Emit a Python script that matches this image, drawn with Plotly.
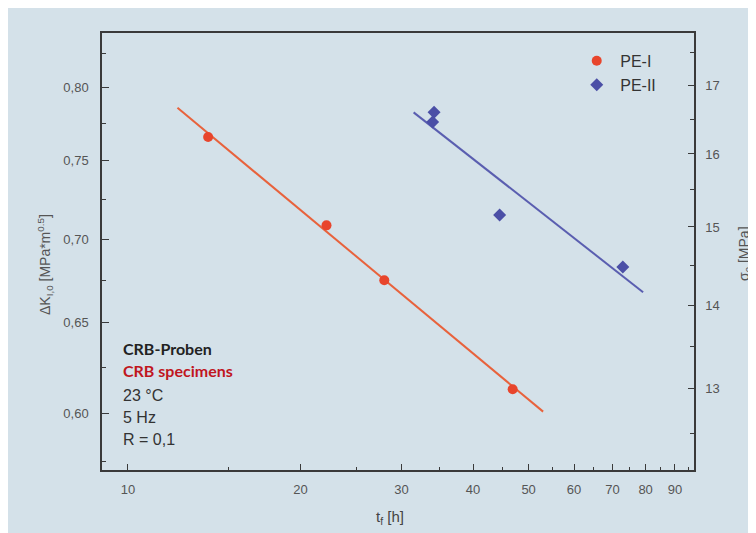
import plotly.graph_objects as go

# ---- data ----
pe1_t = [13.8, 22.2, 28.0, 46.9]          # t_f [h]
pe1_dk = [0.766, 0.7085, 0.675, 0.613]   # ΔK_I,0 [MPa*m^0.5]
pe1_fit_t = [12.2, 53.0]
pe1_fit_dk = [0.786, 0.601]

pe2_t = [34.2, 34.0, 44.5, 73.0]         # t_f [h]
pe2_sig = [16.60, 16.46, 15.16, 14.48]   # σ0 [MPa]
pe2_fit_t = [31.5, 79.2]
pe2_fit_sig = [16.60, 14.16]

x_ticks = [10, 20, 30, 40, 50, 60, 70, 80, 90]
x_minor = [15, 25, 35, 45, 55, 65, 75, 85, 95]
y_ticks = [0.60, 0.65, 0.70, 0.75, 0.80]
y_minor = [0.575, 0.625, 0.675, 0.725, 0.775, 0.825]
y2_ticks = [13, 14, 15, 16, 17]
y2_minor = [12.5, 13.5, 14.5, 15.5, 16.5, 17.5]

info_lines = ["23 °C", "5 Hz", "R = 0,1"]

BG = "#d4e1e9"
AX = "#3a3a3a"
TICKFONT = dict(family="Liberation Sans, Arial, sans-serif", size=13, color="#555")

fig = go.Figure()
fig.add_trace(go.Scatter(x=pe1_fit_t, y=pe1_fit_dk, mode="lines",
                         line=dict(color="#e8623c", width=2), showlegend=False,
                         hoverinfo="skip"))
fig.add_trace(go.Scatter(x=pe2_fit_t, y=pe2_fit_sig, mode="lines", yaxis="y2",
                         line=dict(color="#5a5eb0", width=2), showlegend=False,
                         hoverinfo="skip"))
fig.add_trace(go.Scatter(x=pe1_t, y=pe1_dk, mode="markers", name="PE-I",
                         marker=dict(symbol="circle", size=10, color="#e8452c")))
fig.add_trace(go.Scatter(x=pe2_t, y=pe2_sig, mode="markers", name="PE-II", yaxis="y2",
                         marker=dict(symbol="diamond", size=10, color="#4b4fa6")))

common = dict(showline=True, linecolor=AX, linewidth=1.5, ticks="inside",
              tickcolor=AX, tickwidth=1.3, showgrid=False, zeroline=False,
              tickfont=TICKFONT)

# page body has an 8px margin, so the figure is sized 8px smaller
fig.update_layout(
    width=748, height=525,
    margin=dict(l=94, r=62, t=25, b=63),
    paper_bgcolor=BG,
    plot_bgcolor=BG,
    separators=",.",
    xaxis=dict(type="log", range=[0.9547, 1.9875], tickmode="array",
               tickvals=x_ticks, ticktext=[str(v) for v in x_ticks], ticklen=6,
               mirror=True, ticklabelstandoff=7,
               minor=dict(tickmode="array", tickvals=x_minor, ticks="inside",
                          ticklen=3, tickcolor=AX, tickwidth=1.3, showgrid=False),
               **common),
    yaxis=dict(type="log", range=[-0.24352, -0.07587], tickmode="array",
               tickvals=y_ticks, ticktext=[f"{v:.2f}".replace(".", ",") for v in y_ticks],
               ticklen=7, ticklabelstandoff=9,
               minor=dict(tickmode="array", tickvals=y_minor, ticks="inside",
                          ticklen=4, tickcolor=AX, tickwidth=1.3, showgrid=False),
               **common),
    yaxis2=dict(type="log", range=[1.08279, 1.25057], overlaying="y", side="right",
                tickmode="array", tickvals=y2_ticks, ticktext=[str(v) for v in y2_ticks],
                ticklen=6, ticklabelstandoff=7,
                minor=dict(tickmode="array", tickvals=y2_minor, ticks="inside",
                           ticklen=4, tickcolor=AX, tickwidth=1.3, showgrid=False),
                **common),
    legend=dict(x=0.796, y=0.975, xanchor="left", yanchor="top",
                bgcolor="rgba(0,0,0,0)", itemwidth=37,
                font=dict(family="Liberation Sans, Arial, sans-serif", size=16, color="#333")),
)

def px_x(x):
    return (x - 102) / 592

def px_y(y):
    return (470 - y) / 437

ann = []
ann.append(dict(xref="paper", yref="paper", x=px_x(45), y=px_y(265),
                text="ΔK<sub>I,0</sub> [MPa*m<sup>0.5</sup>]", textangle=-90,
                showarrow=False, xanchor="center", yanchor="middle",
                font=dict(family="Liberation Sans, Arial, sans-serif", size=14, color="#555")))
ann.append(dict(xref="paper", yref="paper", x=px_x(745), y=px_y(254),
                text="σ<sub>0</sub> [MPa]", textangle=-90,
                showarrow=False, xanchor="center", yanchor="middle",
                font=dict(family="Liberation Sans, Arial, sans-serif", size=14, color="#555")))
ann.append(dict(xref="paper", yref="paper", x=px_x(390), y=px_y(517),
                text="t<sub>f</sub> [h]", showarrow=False, xanchor="center", yanchor="middle",
                font=dict(family="Liberation Sans, Arial, sans-serif", size=15, color="#444")))
ann.append(dict(xref="paper", yref="paper", x=px_x(121), y=px_y(348),
                text="<b>CRB-Proben</b>", showarrow=False, xanchor="left", yanchor="middle",
                font=dict(family="Lato, sans-serif", size=16, color="#222")))
ann.append(dict(xref="paper", yref="paper", x=px_x(121), y=px_y(370),
                text="<b>CRB specimens</b>", showarrow=False, xanchor="left", yanchor="middle",
                font=dict(family="Lato, sans-serif", size=16, color="#c0161e")))
for i, line in enumerate(info_lines):
    ann.append(dict(xref="paper", yref="paper", x=px_x(121), y=px_y(395 + 22 * i),
                    text=line, showarrow=False, xanchor="left", yanchor="middle",
                    font=dict(family="Liberation Sans, Arial, sans-serif", size=16, color="#333")))
fig.update_layout(annotations=ann)

fig.write_html("out.html")
